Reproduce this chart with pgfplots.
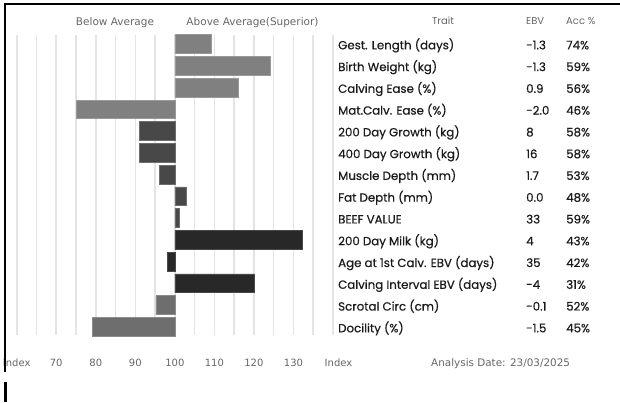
\documentclass[border=0pt]{standalone}
\usepackage{pgfplots}
\pgfplotsset{compat=1.18}
\usepackage{pgfplotstable}
\usepackage{fontspec}
\setmainfont{DejaVu Sans}
\newfontfamily\pop{Poppins}
\newfontfamily\popm{Poppins}[FakeBold=0.5]
\definecolor{gA}{HTML}{808080}
\definecolor{gB}{HTML}{484848}
\definecolor{gC}{HTML}{282828}
\definecolor{gD}{HTML}{6E6E6E}
\definecolor{gridc}{HTML}{E4E4E4}
\definecolor{txt}{HTML}{1A1A1A}
\definecolor{hdr}{HTML}{666666}

\pgfplotstableread{
row idx
1 109.3
2 124.2
3 116.1
4 75.1
}\grpA
\pgfplotstableread{
row idx
5 91.0
6 91.0
7 96.1
8 103.0
9 101.1
}\grpB
\pgfplotstableread{
row idx
10 132.2
11 98.1
12 120.1
}\grpC
\pgfplotstableread{
row idx
13 95.2
14 79.2
}\grpD

\newcommand\tf{\popm\fontsize{11.8}{13}\selectfont}
\newcommand\trow[4]{%
  \node[anchor=base west,inner sep=0,text=txt,font=\tf] at (338pt,{(352.7-(#1-1)*21.77)*1pt}) {#2};
  \node[anchor=base west,inner sep=0,text=txt,font=\tf] at (526pt,{(352.7-(#1-1)*21.77)*1pt}) {#3};
  \node[anchor=base west,inner sep=0,text=txt,font=\tf] at (566pt,{(352.7-(#1-1)*21.77)*1pt}) {#4};
}

\begin{document}
\begin{tikzpicture}
\useasboundingbox (0,0) rectangle (620pt,402pt);
\begin{axis}[
  at={(16.7pt,67pt)}, anchor=south west,
  scale only axis, width=316.3pt, height=300pt,
  xmin=-40, xmax=40, ymin=0.58, ymax=14.38, y dir=reverse,
  xtick={-40,-30,...,30}, minor xtick={-35,-25,...,35,40},
  xticklabels={Index,70,80,90,100,110,120,130},
  xmajorgrids, xminorgrids,
  grid style={draw=gridc, line width=1.6pt},
  major grid style={draw=gridc, line width=1.6pt},
  minor grid style={draw=gridc, line width=1.6pt},
  ytick=\empty,
  axis line style={draw=none},
  major tick length=0pt, minor tick length=0pt,
  tick style={draw=none},
  /pgf/number format/assume math mode=true,
  xticklabel style={anchor=base, yshift=-31pt, text=hdr, font=\fontsize{10}{12}\selectfont},
  xbar, bar shift=0pt, bar width=0.86,
  clip=false,
]
\addplot[fill=gA, draw=gA!80!white, line width=0.7pt] table[x expr=\thisrow{idx}-100, y=row] {\grpA};
\addplot[fill=gB, draw=gB!80!white, line width=0.7pt] table[x expr=\thisrow{idx}-100, y=row] {\grpB};
\addplot[fill=gC, draw=gC!85!white, line width=0.7pt] table[x expr=\thisrow{idx}-100, y=row] {\grpC};
\addplot[fill=gD, draw=gD!80!white, line width=0.7pt] table[x expr=\thisrow{idx}-100, y=row] {\grpD};
\end{axis}
% frame decorations
\fill[black] (4pt,396.5pt) rectangle (620pt,399pt);
\fill[black] (4pt,30pt) rectangle (5.5pt,398pt);
\fill[black] (4pt,0pt) rectangle (7pt,20pt);
% headers
\node[anchor=base,inner sep=0,text=hdr,font=\fontsize{10.5}{12}\selectfont] at (115pt,376pt) {Below Average};
\node[anchor=base,inner sep=0,text=hdr,font=\fontsize{10.5}{12}\selectfont] at (252.5pt,376pt) {Above Average(Superior)};
\node[anchor=base,inner sep=0,text=hdr,font=\pop\fontsize{10}{11}\selectfont] at (443pt,377.7pt) {Trait};
\node[anchor=base west,inner sep=0,text=hdr,font=\pop\fontsize{10}{11}\selectfont] at (526pt,377.7pt) {EBV};
\node[anchor=base west,inner sep=0,text=hdr,font=\pop\fontsize{10}{11}\selectfont] at (566pt,377.7pt) {Acc \%};
% table
\trow{1}{Gest. Length (days)}{-1.3}{74\%}
\trow{2}{Birth Weight (kg)}{-1.3}{59\%}
\trow{3}{Calving Ease (\%)}{0.9}{56\%}
\trow{4}{Mat.Calv. Ease (\%)}{-2.0}{46\%}
\trow{5}{200 Day Growth (kg)}{8}{58\%}
\trow{6}{400 Day Growth (kg)}{16}{58\%}
\trow{7}{Muscle Depth (mm)}{1.7}{53\%}
\trow{8}{Fat Depth (mm)}{0.0}{48\%}
\trow{9}{BEEF VALUE}{33}{59\%}
\trow{10}{200 Day Milk (kg)}{4}{43\%}
\trow{11}{Age at 1st Calv. EBV (days)}{35}{42\%}
\trow{12}{Calving Interval EBV (days)}{-4}{31\%}
\trow{13}{Scrotal Circ (cm)}{-0.1}{52\%}
\trow{14}{Docility (\%)}{-1.5}{45\%}
% bottom texts
\node[anchor=base,inner sep=0,text=hdr,font=\fontsize{10}{12}\selectfont] at (338.5pt,35.5pt) {Index};
\node[anchor=base west,inner sep=0,text=hdr,font=\fontsize{10.4}{12}\selectfont] at (431pt,35.5pt) {Analysis Date: 23/03/2025};
\end{tikzpicture}
\end{document}
